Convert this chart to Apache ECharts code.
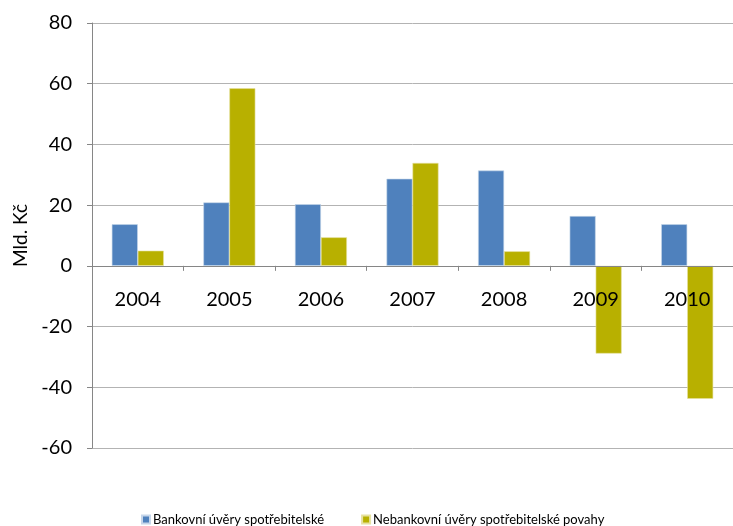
<!DOCTYPE html>
<html><head><meta charset="utf-8">
<script src="https://cdn.jsdelivr.net/npm/echarts@6/dist/echarts.min.js"></script>
<style>html,body{margin:0;padding:0;background:#fff}#c{width:733px;height:526px}</style>
</head><body><div id="c"></div>
<script>
const categories = ['2004','2005','2006','2007','2008','2009','2010'];
const bankovni = [13.7, 20.9, 20.3, 28.7, 31.4, 16.4, 13.7];
const nebankovni = [5.0, 58.5, 9.4, 33.9, 4.8, -28.9, -43.8];
const seriesNames = ['Bankovní úvěry spotřebitelské', 'Nebankovní úvěry spotřebitelské povahy'];
const yTicks = {min: -60, max: 80, interval: 20};

const font = 'Lato, "Open Sans", sans-serif';
const gridH = 425;
// x axis sits on the zero line: shift it up by the share of the range below zero
const zeroOffset = -gridH * (0 - yTicks.min) / (yTicks.max - yTicks.min);
const chart = echarts.init(document.getElementById('c'), null, {renderer: 'canvas'});
chart.setOption({
  animation: false,
  backgroundColor: '#fff',
  grid: {left: 92, top: 23, width: 651, height: gridH, containLabel: false},
  legend: {
    top: 508, left: 136, itemWidth: 8, itemHeight: 8, itemGap: 37, icon: 'rect',
    textStyle: {fontSize: 13, fontFamily: font, color: '#000', padding: [0,0,0,-2]},
    data: seriesNames
  },
  xAxis: {
    type: 'category', data: categories, offset: zeroOffset,
    axisLine: {onZero: false, lineStyle: {color: '#868686'}},
    axisTick: {show: true, length: 5, lineStyle: {color: '#868686'}},
    axisLabel: {fontSize: 20, fontFamily: font, color: '#000', margin: 24},
    z: 10
  },
  yAxis: {
    type: 'value', min: yTicks.min, max: yTicks.max, interval: yTicks.interval,
    name: 'Mld. Kč', nameLocation: 'middle', nameGap: 59, nameRotate: 90,
    nameTextStyle: {fontSize: 19, fontFamily: font, color: '#000'},
    axisLine: {show: true, lineStyle: {color: '#868686'}},
    axisTick: {show: true, length: 5, lineStyle: {color: '#868686'}},
    axisLabel: {fontSize: 20, fontFamily: font, color: '#000', margin: 20},
    splitLine: {lineStyle: {color: '#b3b3b3'}}
  },
  series: [
    {name: seriesNames[0], type: 'bar', data: bankovni, barWidth: 26, barGap: '0%',
     itemStyle: {color: '#4f81bd', borderColor: '#c6d6ea', borderWidth: 0.6}},
    {name: seriesNames[1], type: 'bar', data: nebankovni, barWidth: 26,
     itemStyle: {color: '#b8b000', borderColor: '#e6e1a0', borderWidth: 0.6}}
  ]
});
</script></body></html>
